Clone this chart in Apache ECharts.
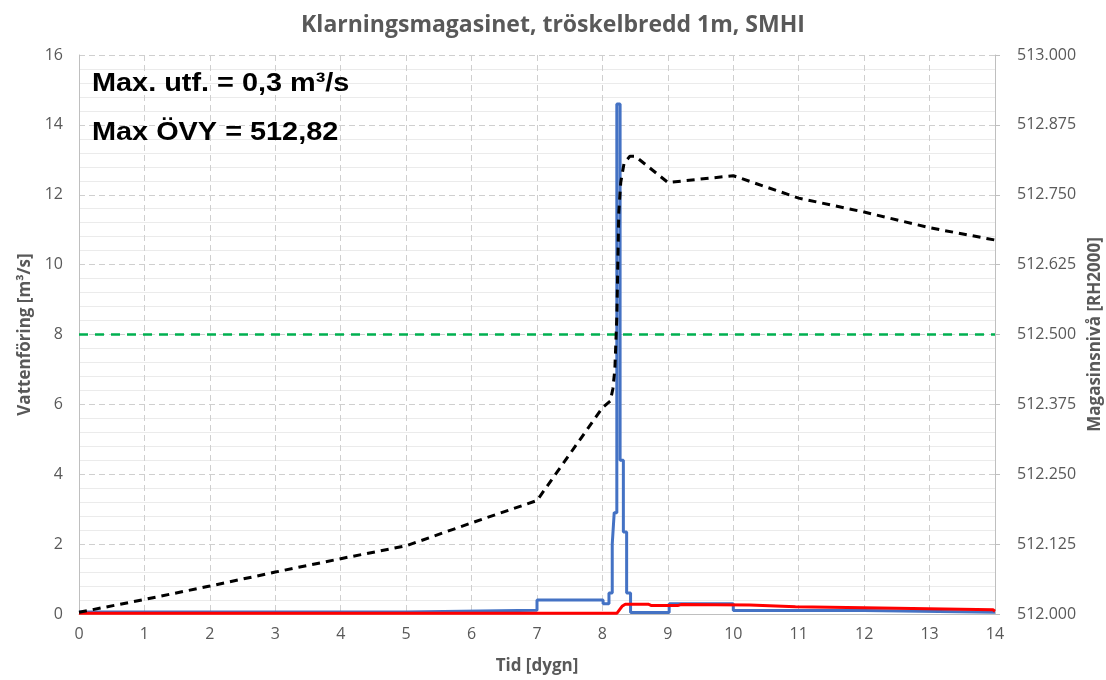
<!DOCTYPE html>
<html><head><meta charset="utf-8">
<script src="https://cdn.jsdelivr.net/npm/echarts@6/dist/echarts.min.js"></script>
<style>html,body{margin:0;padding:0;background:#fff}#c{width:1106px;height:680px}</style>
</head><body><div id="c"></div>
<script>
// Blue: inflow step series (day, m3/s), value holds from t[i] to t[i+1]
const blueT = [0, 5, 7, 8.01, 8.10, 8.15, 8.18, 8.22, 8.27, 8.32, 8.37, 8.43, 9.02, 10, 12, 14];
const blueQ = [0.06, 0.11, 0.40, 0.29, 0.60, 2.0, 2.9, 14.6, 4.4, 2.35, 0.60, 0.04, 0.29, 0.10, 0.05, 0.05];
// Red: outflow (day, m3/s)
const redT = [0, 8.22, 8.26, 8.30, 8.35, 8.70, 8.75, 9.15, 9.20, 10.25, 10.28, 10.95, 10.98, 12.0, 12.03, 12.98, 13.01, 13.97, 14];
const redQ = [0.02, 0.02, 0.12, 0.22, 0.28, 0.28, 0.24, 0.24, 0.27, 0.26, 0.21, 0.21, 0.18, 0.18, 0.15, 0.15, 0.12, 0.12, 0.08];
// Black dashed: reservoir level (day, m RH2000)
const levelT = [0, 1, 2, 3, 4, 5, 6, 7, 7.35, 8.0, 8.12, 8.16, 8.19, 8.22, 8.25, 8.28, 8.33, 8.42, 8.5, 9.0, 10, 11, 12, 13, 14];
const levelH = [512.003, 512.026, 512.050, 512.075, 512.099, 512.122, 512.163, 512.203, 512.261, 512.369, 512.381, 512.403, 512.438, 512.531, 512.719, 512.772, 512.806, 512.819, 512.819, 512.772, 512.784, 512.744, 512.719, 512.691, 512.669];
// Green dashed: threshold flow
const threshT = [0, 14];
const threshQ = [8, 8];

const zip = (a, b) => a.map((v, i) => [v, b[i]]);
const gray = '#595959';
const fontF = '"Open Sans", sans-serif';
const annFont = 'bold 26px "Liberation Sans", Arial, sans-serif';
const chart = echarts.init(document.getElementById('c'));
chart.setOption({
  animation: false,
  backgroundColor: '#fff',
  title: {
    text: 'Klarningsmagasinet, tröskelbredd 1m, SMHI',
    left: 'center', top: 9,
    textStyle: {color: gray, fontSize: 23, fontWeight: 'bold', fontFamily: fontF}
  },
  grid: {left: 79, right: 111, top: 55, bottom: 66, containLabel: false, outerBoundsMode: 'none'},
  xAxis: {
    type: 'value', min: 0, max: 14, interval: 1,
    name: 'Tid [dygn]', nameLocation: 'middle', nameGap: 44,
    nameTextStyle: {color: gray, fontSize: 17, fontWeight: 'bold', fontFamily: fontF},
    axisLine: {show: true, lineStyle: {color: '#bfbfbf', width: 1}},
    axisTick: {show: false},
    axisLabel: {color: gray, fontSize: 16, fontFamily: fontF, margin: 12},
    splitLine: {show: true, lineStyle: {color: '#cfcfcf', type: [6, 4], width: 1}}
  },
  yAxis: [{
    type: 'value', min: 0, max: 16, interval: 2,
    name: 'Vattenföring [m³/s]', nameLocation: 'middle', nameGap: 45, nameRotate: 90,
    nameTextStyle: {color: gray, fontSize: 17, fontWeight: 'bold', fontFamily: fontF},
    axisLine: {show: true, lineStyle: {color: '#bfbfbf'}},
    axisTick: {show: false},
    axisLabel: {color: gray, fontSize: 16, fontFamily: fontF, margin: 16},
    splitLine: {show: true, lineStyle: {color: '#cfcfcf', type: [6, 4]}},
    minorTick: {show: false, splitNumber: 5},
    minorSplitLine: {show: true, lineStyle: {color: '#ebebeb', width: 1}}
  }, {
    type: 'value', min: 512, max: 513, interval: 0.125,
    name: 'Magasinsnivå [RH2000]', nameLocation: 'middle', nameGap: 90, nameRotate: 90,
    nameTextStyle: {color: gray, fontSize: 17, fontWeight: 'bold', fontFamily: fontF},
    axisLine: {show: true, lineStyle: {color: '#bfbfbf'}},
    axisTick: {show: true, length: 5, lineStyle: {color: '#bfbfbf'}},
    axisLabel: {color: gray, fontSize: 16, fontFamily: fontF, margin: 22,
      formatter: v => v.toFixed(3)},
    splitLine: {show: false}
  }],
  graphic: [
    {type: 'text', x: 92, y: 84, z: 100, scaleX: 1.11,
     style: {text: 'Max. utf. = 0,3 m³/s', fill: '#000', font: annFont, verticalAlign: 'middle'}},
    {type: 'text', x: 92, y: 133, z: 100, scaleX: 1.11,
     style: {text: 'Max ÖVY = 512,82', fill: '#000', font: annFont, verticalAlign: 'middle'}}
  ],
  series: [
    {type: 'line', data: zip(threshT, threshQ), symbol: 'none', z: 2,
     lineStyle: {color: '#00B050', width: 2.5, type: [9, 7]}},
    {type: 'line', data: zip(blueT, blueQ), step: 'end', symbol: 'none', z: 3,
     lineStyle: {color: '#4472C4', width: 3}},
    {type: 'line', data: zip(redT, redQ), symbol: 'none', z: 4,
     lineStyle: {color: '#FF0000', width: 3}},
    {type: 'line', yAxisIndex: 1, data: zip(levelT, levelH), symbol: 'none', z: 5,
     lineStyle: {color: '#000', width: 3, type: [8, 6]}}
  ]
});
</script></body></html>
